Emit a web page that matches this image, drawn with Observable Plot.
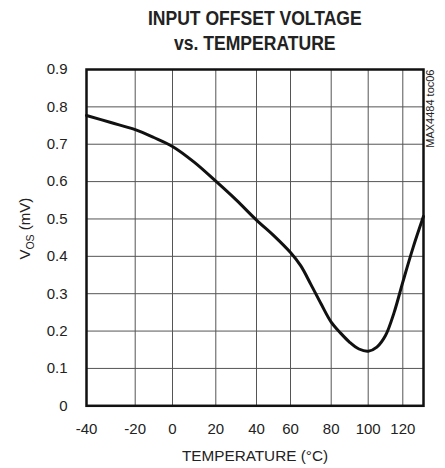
<!DOCTYPE html>
<html><head><meta charset="utf-8">
<script src="https://cdn.jsdelivr.net/npm/d3@7"></script>
<script src="https://cdn.jsdelivr.net/npm/@observablehq/plot@0.6"></script>
<style>
body{margin:0;background:#fff;}
#title{box-sizing:border-box;width:445px;height:55px;padding-top:5.6px;padding-left:64px;text-align:center;font-family:"Liberation Sans",Arial,sans-serif;font-weight:bold;font-size:19.5px;line-height:25px;color:#222;}
#title span{display:inline-block;transform:scaleX(0.9);transform-origin:50% 50%;white-space:nowrap;}
</style></head><body>
<div id="title"><span>INPUT OFFSET VOLTAGE</span><br><span>vs. TEMPERATURE</span></div>
<div id="chart"></div>
<script>
// Data
const temps = [-40,-30,-20,-10,0,10,20,30,40,50,60,65,70,75,80,85,90,95,100,105,110,115,120,125,130];
const vos = [0.777,0.758,0.739,0.718,0.694,0.652,0.601,0.551,0.497,0.456,0.410,0.375,0.325,0.273,0.224,0.195,0.170,0.152,0.146,0.157,0.188,0.250,0.331,0.424,0.507];
const xTicks = [-40,-20,0,20,40,60,80,100,120];
const yTicks = [0,0.1,0.2,0.3,0.4,0.5,0.6,0.7,0.8,0.9];
const xLabel = "TEMPERATURE (°C)";
const yLabel = "VOS (mV)";
const note = "MAX4484 toc06";

// The original scan has unevenly spaced temperature gridlines: piecewise x scale
const xDomain = [-40,-20,0,20,40,60,80,100,120,130];
const xRange = [86,134.7,172,215.3,256,290,330.7,367.7,402.3,423];

const FONT = '"Liberation Sans",Arial,sans-serif';
const rows = temps.map((t, i) => ({t, v: vos[i]}));

const chart = Plot.plot({
  width: 445, height: 413,
  marginTop: 14, marginBottom: 62.7, marginLeft: 86, marginRight: 22,
  style: {fontFamily: FONT, color: "#222", background: "#fff"},
  x: {type: "linear", domain: xDomain, range: xRange},
  y: {domain: [0, 0.9]},
  marks: [
    Plot.gridX(xTicks, {stroke: "#555", strokeOpacity: 1, strokeWidth: 1}),
    Plot.gridY(yTicks, {stroke: "#555", strokeOpacity: 1, strokeWidth: 1}),
    Plot.frame({stroke: "#111", strokeWidth: 2.5}),
    Plot.axisX(xTicks, {tickSize: 0, tickPadding: 18, fontSize: 15, label: null, tickFormat: d => String(d)}),
    Plot.axisY(yTicks, {tickSize: 0, tickPadding: 19, fontSize: 15, label: null, tickFormat: d => d === 0 ? "0" : d.toFixed(1)}),
    Plot.line(rows, {x: "t", y: "v", curve: "catmull-rom", stroke: "#111", strokeWidth: 3}),
    Plot.text([xLabel], {text: d => d, frameAnchor: "bottom", textAnchor: "middle", lineAnchor: "bottom", dy: 55.2, fontSize: 15.3}),
    Plot.text([yLabel], {text: d => d, frameAnchor: "left", rotate: -90, textAnchor: "middle", lineAnchor: "bottom", dx: -56.7, dy: -9, fontSize: 15}),
    Plot.text([note], {text: d => d, frameAnchor: "top-right", rotate: -90, textAnchor: "end", lineAnchor: "bottom", dx: 10.3, fontSize: 11})
  ]
});

// subscript "OS" in the y label
const yl = Array.from(chart.querySelectorAll("text")).find(t => t.textContent === yLabel);
if (yl) {
  yl.textContent = "";
  const ns = "http://www.w3.org/2000/svg";
  const a = document.createElementNS(ns, "tspan"); a.textContent = "V"; yl.appendChild(a);
  const b = document.createElementNS(ns, "tspan"); b.textContent = "OS"; b.setAttribute("font-size", "10.5"); b.setAttribute("dy", "4"); yl.appendChild(b);
  const c = document.createElementNS(ns, "tspan"); c.textContent = " (mV)"; c.setAttribute("dy", "-4"); yl.appendChild(c);
}
document.getElementById("chart").appendChild(chart);
</script>
</body></html>
